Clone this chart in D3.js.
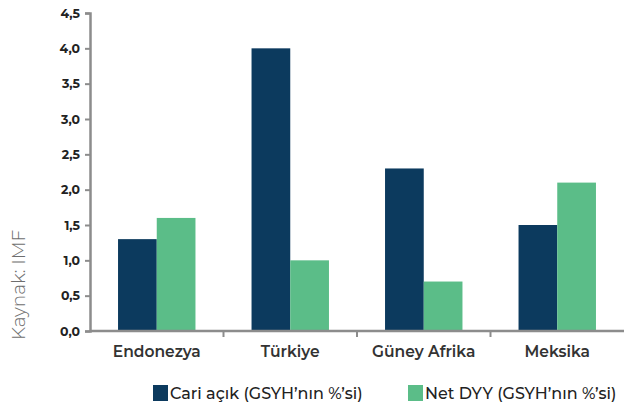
<!DOCTYPE html>
<html>
<head>
<meta charset="utf-8">
<script src="https://cdn.jsdelivr.net/npm/d3@7"></script>
<style>
  body { margin: 0; background: #fff; }
  svg { display: block; }
</style>
</head>
<body>
<svg id="chart" width="624" height="409"></svg>
<script>
// Countries and series
const countries = ["Endonezya", "Türkiye", "Güney Afrika", "Meksika"];
const seriesNames = ["Cari açık (GSYH’nın %’si)", "Net DYY (GSYH’nın %’si)"];
const cariAcik = [1.3, 4.0, 2.3, 1.5];
const netDYY = [1.6, 1.0, 0.7, 2.1];
const yTicks = [0, 0.5, 1, 1.5, 2, 2.5, 3, 3.5, 4, 4.5];
const colors = ["#0c3a5e", "#5bbd88"];
const sourceNote = "Kaynak: IMF";

const svg = d3.select("#chart");
const plotLeft = 90, plotRight = 624, plotTop = 13, plotBottom = 331;

const x0 = d3.scaleBand().domain(countries).range([plotLeft, plotRight]).padding(0);
const bw = x0.bandwidth();
const x1 = d3.scaleBand().domain(seriesNames).range([bw * 0.21, bw * 0.79]).padding(0);
const y = d3.scaleLinear().domain([0, 4.5]).range([plotBottom, plotTop]);

const fmt = v => d3.format(".1f")(v).replace(".", ",");

// Bars
const rows = countries.map((c, i) => ({ country: c, values: [cariAcik[i], netDYY[i]] }));
const groups = svg.append("g").selectAll("g").data(rows).join("g")
  .attr("transform", d => `translate(${x0(d.country)},0)`);
groups.selectAll("rect")
  .data(d => d.values.map((v, j) => ({ name: seriesNames[j], value: v, j })))
  .join("rect")
  .attr("x", d => x1(d.name))
  .attr("width", x1.bandwidth())
  .attr("y", d => y(d.value))
  .attr("height", d => y(0) - y(d.value))
  .attr("fill", d => colors[d.j]);

// Y axis
const yAxis = svg.append("g")
  .attr("transform", `translate(${plotLeft},0)`)
  .call(d3.axisLeft(y).tickValues(yTicks).tickFormat(fmt).tickSize(5).tickPadding(5));
yAxis.select(".domain").attr("stroke", "#8c8c8c").attr("stroke-width", 2.5);
yAxis.selectAll(".tick line").attr("stroke", "#8c8c8c").attr("stroke-width", 2);
yAxis.selectAll(".tick text")
  .attr("font-family", "Montserrat, 'DejaVu Sans', sans-serif")
  .attr("font-weight", "bold").attr("font-size", 12.5).attr("fill", "#222");

// X axis
const xAxis = svg.append("g").attr("transform", `translate(0,${plotBottom})`);
xAxis.append("line")
  .attr("x1", plotLeft).attr("x2", plotRight)
  .attr("stroke", "#8c8c8c").attr("stroke-width", 2.5);
xAxis.selectAll(".xtick").data(countries.slice(1)).join("line")
  .attr("x1", d => x0(d)).attr("x2", d => x0(d))
  .attr("y1", 0).attr("y2", 6)
  .attr("stroke", "#8c8c8c").attr("stroke-width", 2);
xAxis.selectAll(".xlab").data(countries).join("text")
  .attr("x", d => x0(d) + bw / 2)
  .attr("y", 26)
  .attr("text-anchor", "middle")
  .attr("font-family", "Montserrat, 'DejaVu Sans', sans-serif")
  .attr("font-weight", 600).attr("font-size", 15.5).attr("fill", "#333")
  .text(d => d);

// Source note
svg.append("text")
  .attr("transform", "translate(25,285) rotate(-90)")
  .attr("text-anchor", "middle")
  .attr("font-family", "Montserrat, Lato, sans-serif")
  .attr("font-weight", 300).attr("font-size", 18.5).attr("fill", "#6e6e6e")
  .text(sourceNote);

// Legend
const legendX = [153, 408];
const legend = svg.append("g").selectAll("g").data(seriesNames).join("g")
  .attr("transform", (d, i) => `translate(${legendX[i]},385)`);
legend.append("rect").attr("width", 15).attr("height", 16).attr("fill", (d, i) => colors[i]);
legend.append("text")
  .attr("x", 17).attr("y", 13.5)
  .attr("font-family", "Montserrat, 'DejaVu Sans', sans-serif")
  .attr("font-weight", 500).attr("font-size", 16).attr("fill", "#222")
  .text(d => d);
</script>
</body>
</html>
